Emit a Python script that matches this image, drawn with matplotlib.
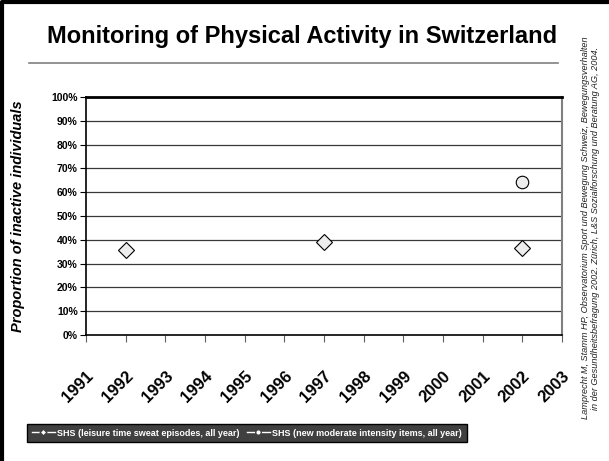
import numpy as np
import matplotlib.pyplot as plt
from matplotlib.lines import Line2D
from matplotlib import transforms

plt.rcParams['font.family'] = ['Liberation Sans', 'DejaVu Sans']

# data
years = list(range(1991, 2004))
sweat_years = [1992, 1997, 2002]
sweat_vals = [35.8, 39.1, 36.6]
moderate_years = [2002]
moderate_vals = [64.3]
yticks = list(range(0, 101, 10))
ylabels = [f"{v}%" for v in yticks]

fig = plt.figure(figsize=(6.09, 4.61), dpi=100)
W, H = 609, 461

ax = fig.add_axes([86 / W, 1 - 335 / H, (562 - 86) / W, (335 - 97) / H])

# gridlines
for v in yticks[1:]:
    ax.axhline(v, color='#383838', lw=0.9, zorder=1)

ax.plot(sweat_years, sweat_vals, ls='none', marker='D', ms=8.5,
        mfc='#eeeeee', mec='black', mew=0.8, zorder=3)
ax.plot(moderate_years, moderate_vals, ls='none', marker='o', ms=9,
        mfc='#eeeeee', mec='black', mew=0.8, zorder=3)

ax.set_xlim(1991, 2003)
ax.set_ylim(0, 100)
ax.set_xticks(years)
ax.set_xticklabels([str(y) for y in years], rotation=45, ha='right', va='top',
                   rotation_mode='anchor', fontsize=12, fontweight='bold')
off = transforms.ScaledTranslation(-15 / 72, 0, fig.dpi_scale_trans)
for lab in ax.get_xticklabels():
    lab.set_transform(lab.get_transform() + off)
ax.tick_params(axis='x', direction='out', length=5, color='#606060', pad=19)
ax.set_yticks(yticks)
ax.set_yticklabels(ylabels, fontsize=7.5, fontweight='bold')
ax.tick_params(axis='y', direction='out', length=4, color='black', pad=2)

ax.spines['top'].set_linewidth(2)
ax.spines['left'].set_linewidth(1.2)
ax.spines['bottom'].set_linewidth(1.2)
ax.spines['right'].set_color('#808080')
ax.spines['right'].set_linewidth(1.5)

ax.set_ylabel('Proportion of inactive individuals', fontsize=10.5,
              fontweight='bold', fontstyle='italic')
ax.yaxis.set_label_coords(-(86 - 25) / (562 - 86), 0.5)

# title and rule
fig.text(302 / W, 1 - 43 / H, 'Monitoring of Physical Activity in Switzerland',
         ha='center', va='baseline', fontsize=17, fontweight='bold')
fig.add_artist(Line2D([29 / W, 558 / W], [1 - 63 / H, 1 - 63 / H],
                      color='#808080', lw=1.2))

# frame on the left and top
fig.add_artist(Line2D([2 / W, 2 / W, 1], [0, 1 - 2 / H, 1 - 2 / H],
                      color='black', lw=3))

# source text on the right
fig.text(585 / W, 1 - 228 / H,
         'Lamprecht M, Stamm HP, Observatorium Sport und Bewegung Schweiz, Bewegungsverhalten',
         rotation=90, ha='center', va='center', fontsize=6.6, fontstyle='italic',
         color='#202020')
fig.text(596 / W, 1 - 228 / H,
         'in der Gesundheitsbefragung 2002. Zürich, L&S Sozialforschung und Beratung AG, 2004.',
         rotation=90, ha='center', va='center', fontsize=6.6, fontstyle='italic',
         color='#202020')

# legend
handles = [
    Line2D([], [], color='white', lw=1, marker='D', ms=3.5, mfc='white', mec='#404040'),
    Line2D([], [], color='white', lw=1, marker='o', ms=4, mfc='white', mec='#404040'),
]
labels = ['SHS (leisure time sweat episodes, all year)',
          'SHS (new moderate intensity items, all year)']
leg = fig.legend(handles, labels, loc='center', bbox_to_anchor=(247 / W, 1 - 433 / H),
                 ncol=2, frameon=True, fancybox=False, facecolor='#404040',
                 edgecolor='black', framealpha=1, labelcolor='white',
                 prop={'weight': 'bold', 'size': 6.5}, handlelength=2.5,
                 handletextpad=0.3, columnspacing=0.8, borderpad=0.5)
leg.get_frame().set_linewidth(1)

fig.savefig('out.png', dpi=100)
